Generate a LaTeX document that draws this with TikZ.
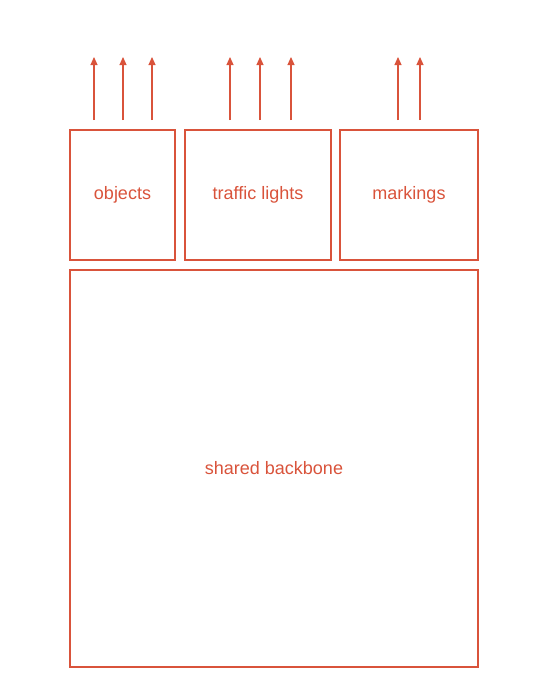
\documentclass[tikz,border=0pt]{standalone}
\usepackage{fontspec}
\setmainfont{Liberation Sans}
\usetikzlibrary{arrows.meta}
\definecolor{accent}{HTML}{D9533B}
\begin{document}
\begin{tikzpicture}[x=1pt,y=-1pt,
  box/.style={draw=accent,line width=1.05pt,inner sep=0pt,text=accent,font=\fontsize{18}{21}\selectfont},
  outarrow/.style={draw=accent,line width=1.05pt,-{Triangle[width=7pt,length=8pt]}}]
\useasboundingbox (0,0) rectangle (540,699);
\node[box,minimum width=105pt,minimum height=130pt] (objects) at (122.5,195) {\raisebox{-2.5pt}{objects}};
\node[box,minimum width=146pt,minimum height=130pt] (traffic) at (258,195) {\raisebox{-2.5pt}{traffic lights}};
\node[box,minimum width=138pt,minimum height=130pt] (markings) at (409,195) {\raisebox{-2.5pt}{markings}};
\node[box,minimum width=408pt,minimum height=397pt] (backbone) at (274,468.5) {\raisebox{-2pt}{shared backbone}};
\foreach \n/\x in {o1/94,o2/123,o3/152,t1/230,t2/260,t3/291,m1/398,m2/420}{
  \coordinate (\n s) at (\x,120);
  \coordinate (\n e) at (\x,57);
  \draw[outarrow] (\n s) -- (\n e);
}
\end{tikzpicture}
\end{document}
